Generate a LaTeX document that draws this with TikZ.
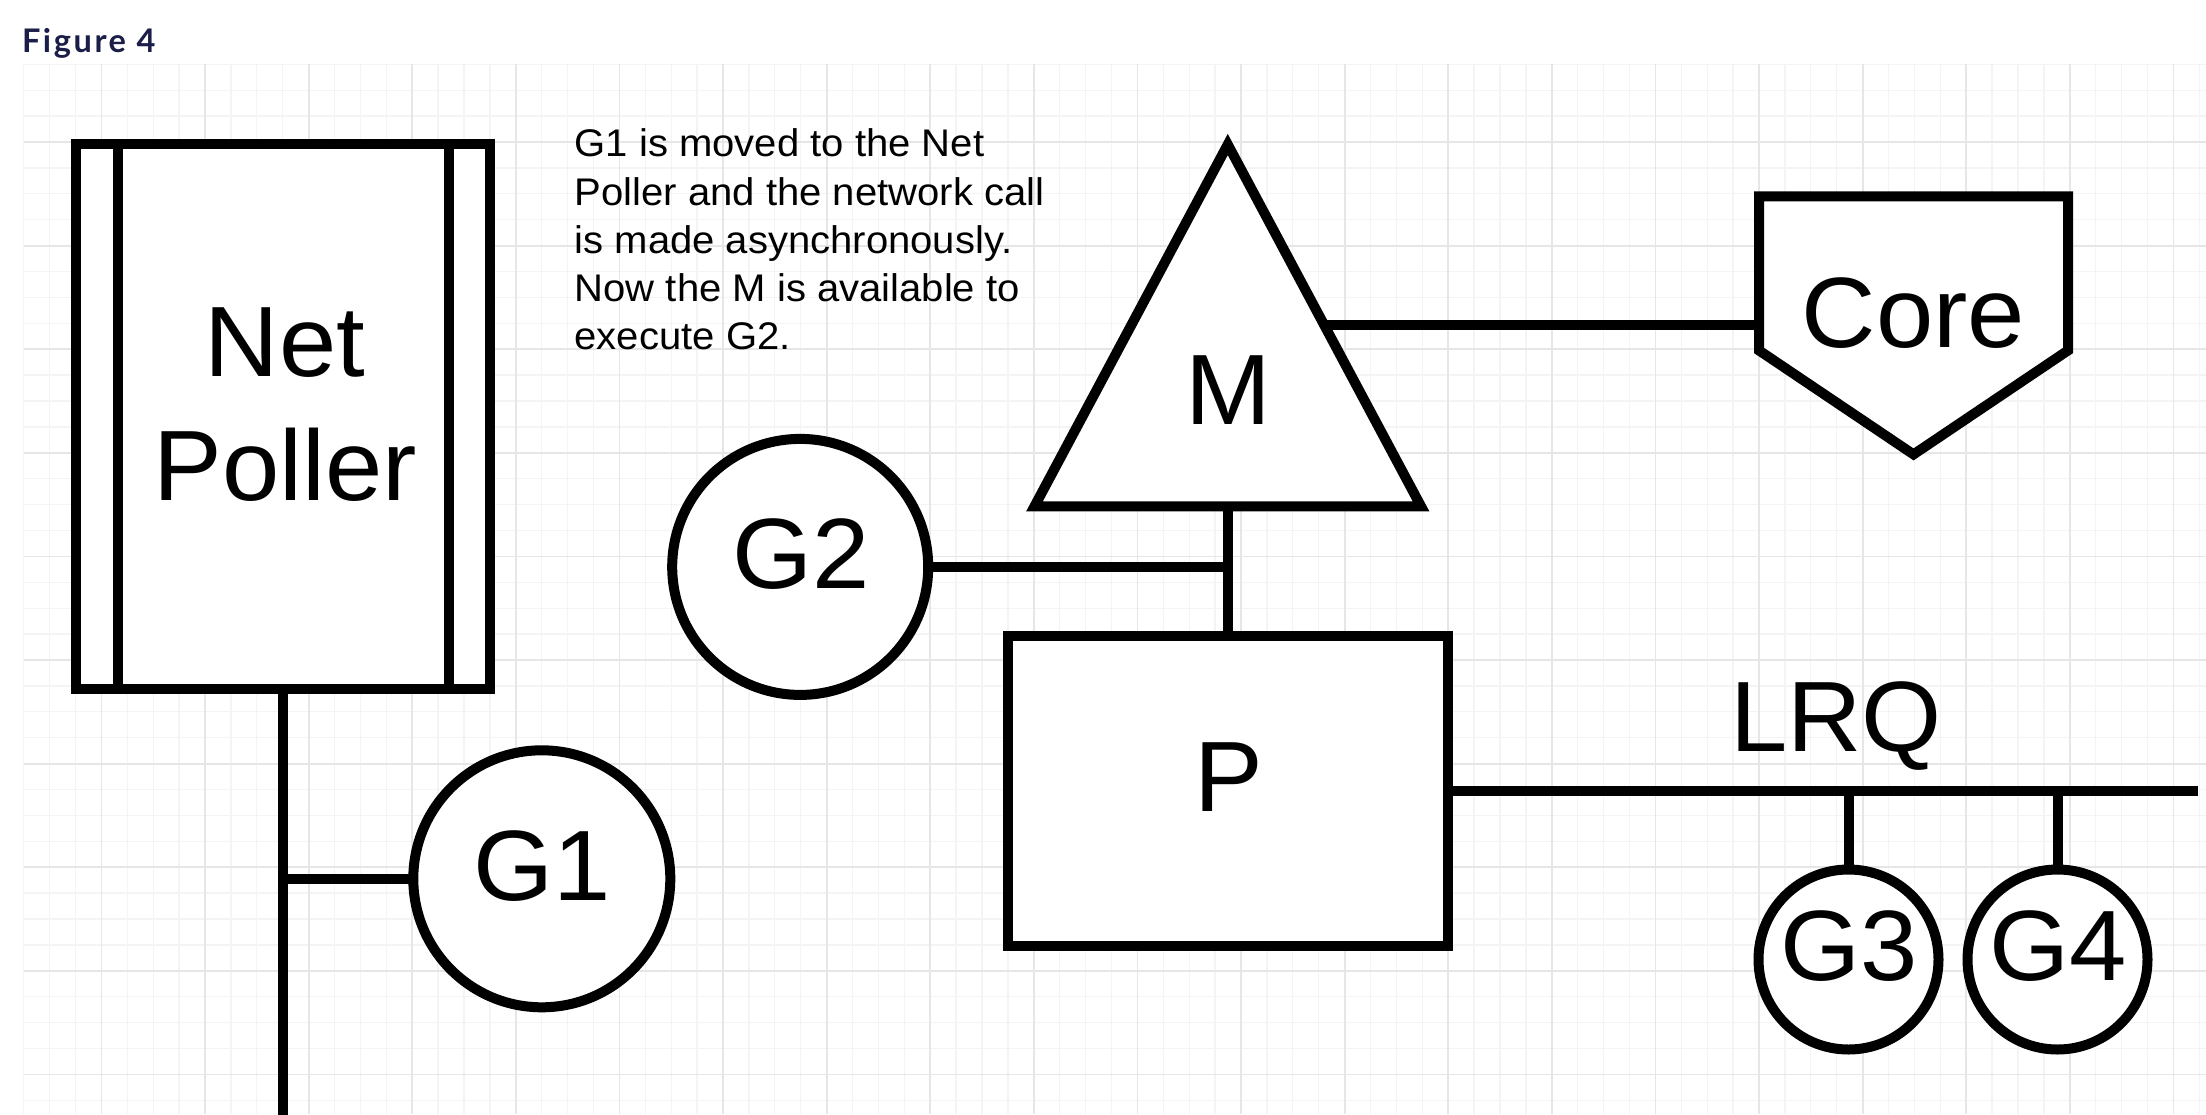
\documentclass[tikz,border=0pt]{standalone}
\usepackage{fontspec}
\usepackage{graphicx}
\setmainfont{Liberation Sans}
\newfontfamily\figfont{Lato}[LetterSpace=8]
\usetikzlibrary{calc}
\definecolor{navy}{RGB}{27,30,72}
\definecolor{gridminor}{RGB}{244,244,244}
\definecolor{gridmajor}{RGB}{230,230,230}
\newcommand\biglbl{\fontsize{100}{120}\selectfont}
\newcommand\hstr[1]{\scalebox{1.03}[1]{#1}}
\newcommand\nstr[1]{\scalebox{1.04}[1]{#1}}
\begin{document}
\begin{tikzpicture}[x=1pt,y=-1pt,
  shp/.style={draw=black, line width=10pt, fill=white, inner sep=0pt, outer sep=0pt},
  conn/.style={draw=black, line width=10pt},
  holder/.style={inner sep=0pt, outer sep=0pt},
  lbl/.style={inner sep=0pt, anchor=base, font=\biglbl},
  minorline/.style={draw=gridminor, line width=1.3pt},
  majorline/.style={draw=gridmajor, line width=1.8pt}]
\useasboundingbox (0,0) rectangle (2206,1114);
\fill[white] (0,0) rectangle (2206,1114);
% grid
\foreach \n in {0,...,84} { \draw[minorline] ({23.7+\n*25.9},64.3) -- ({23.7+\n*25.9},1114); }
\foreach \m in {0,...,40} { \draw[minorline] (23.7,{64.3+\m*25.9}) -- (2206,{64.3+\m*25.9}); }
\foreach \n in {3,7,...,83} { \draw[majorline] ({23.7+\n*25.9},64.3) -- ({23.7+\n*25.9},1114); }
\foreach \m in {3,7,...,39} { \draw[majorline] (23.7,{64.3+\m*25.9}) -- (2206,{64.3+\m*25.9}); }
% title
\node[anchor=base west, inner sep=0pt, text=navy, font={\figfont\bfseries\fontsize{32.5}{38}\selectfont}] (fig) at (21.8,52.3) {Figure 4};
% Net Poller
\node[shp, minimum width=413.9pt, minimum height=544.2pt] (np) at (283.25,416.4) {};
\draw[conn] ($(np.north west)+(41.4,0)$) -- ($(np.south west)+(41.4,0)$);
\draw[conn] ($(np.north east)+(-41.5,0)$) -- ($(np.south east)+(-41.5,0)$);
\node[lbl] (nptxt) at (285,376.7) {\hstr{\vtop{\baselineskip=123.3pt \hbox to 0pt{\hss Net\hss}\hbox to 0pt{\hss Poller\hss}}}};
% note
\node[anchor=base west, inner sep=0pt, font=\fontsize{38.5}{48.3}\selectfont] (note) at (574.5,156.7) {\nstr{\vtop{\baselineskip=48.3pt \hbox{G1 is moved to the Net}\hbox{Poller and the network call}\hbox{is made asynchronously.}\hbox{Now the M is available to}\hbox{execute G2.}}}};
% M and Core
\node[holder, minimum width=386.5pt, minimum height=361.8pt] (M) at (1227.75,325.4) {};
\node[holder, minimum width=309pt, minimum height=258pt] (core) at (1913.5,325.4) {};
\draw[conn] ($(M.north)!0.5!(M.south east)$) -- (core.west);
\draw[shp, line join=miter] (M.north) -- (M.south west) -- (M.south east) -- cycle;
\draw[shp, line join=miter] (core.north west) -- (core.north east) -- ($(core.north east)!0.597!(core.south east)$) -- (core.south) -- ($(core.north west)!0.597!(core.south west)$) -- cycle;
\node[lbl] (Mt) at (1228.5,424) {\hstr{M}};
\node[lbl] (coret) at (1913.5,347) {\hstr{Core}};
% P
\node[shp, minimum width=439.9pt, minimum height=310.3pt] (P) at (1227.75,791.15) {};
\draw[conn] (M.south) -- (P.north);
\node[lbl] (Pt) at (1229,811.5) {\hstr{P}};
% G2
\node[shp, circle, minimum size=256pt] (G2) at (800.2,566.9) {};
\draw[conn] (G2.east) -- (G2.east -| M.south);
\node[lbl] (G2t) at (800.9,588.7) {\hstr{G2}};
% G1 and poller line
\node[shp, circle, minimum size=257pt] (G1) at (541.8,878.8) {};
\coordinate (npend) at (283.25,1120);
\draw[conn] (np.south) -- (npend);
\draw[conn] (G1.west) -- (G1.west -| np.south);
\node[lbl] (G1t) at (542.5,900) {\hstr{G1}};
% LRQ
\coordinate (lrqend) at (2198,791.15);
\draw[conn] (P.east) -- (lrqend);
\node[lbl] (lrqt) at (1836,751.7) {\hstr{LRQ}};
\node[shp, circle, minimum size=180pt] (G3) at (1848.5,959.5) {};
\node[shp, circle, minimum size=180pt] (G4) at (2057.5,959.5) {};
\draw[conn] (G3.north) -- (G3.north |- P.east);
\draw[conn] (G4.north) -- (G4.north |- P.east);
\node[lbl] (G3t) at (1849,980) {\hstr{G3}};
\node[lbl] (G4t) at (2058.5,980) {\hstr{G4}};
\end{tikzpicture}
\end{document}
